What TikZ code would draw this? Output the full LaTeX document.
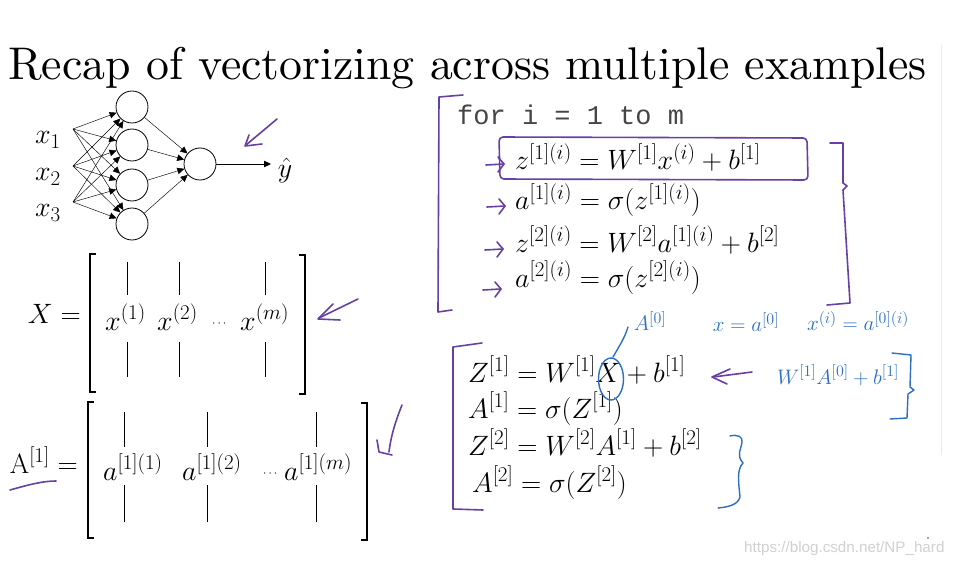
\RequirePackage{fix-cm}
\documentclass[tikz,border=0pt]{standalone}
\usepackage{fontspec}
\newfontfamily\codefont{Liberation Mono}
\newfontfamily\wmfont{Liberation Sans}
\newfontfamily\titlefont{lmroman10-regular.otf}
\usetikzlibrary{arrows.meta}
\definecolor{pen}{RGB}{104,64,164}
\definecolor{bpen}{RGB}{45,112,192}
\definecolor{codegray}{RGB}{70,70,70}
\DeclareMathSizes{28}{28}{21}{16}
\DeclareMathSizes{21}{21}{16}{12}
\newcommand{\eqsize}{\fontsize{28}{32}\selectfont}
\begin{document}
\begin{tikzpicture}[x=1pt,y=-1pt,
  neuron/.style={circle,draw,line width=0.8pt,minimum size=32pt,inner sep=0pt},
  syn/.style={line width=0.45pt,-{Triangle[length=7pt,width=6.5pt]}},
  eq/.style={anchor=base west,inner sep=0pt,font=\eqsize},
  hand/.style={draw=pen,line width=1.6pt,line cap=round,line join=round},
  bhand/.style={draw=bpen,line width=1.4pt,line cap=round,line join=round},
  bnote/.style={text=bpen,inner sep=0pt,font=\fontsize{21}{24}\selectfont},
  colbar/.style={line width=0.9pt},
  brk/.style={line width=1.1pt},
]
\useasboundingbox (0,0) rectangle (961,564);
\fill[white] (0,0) rectangle (961,564);
\draw[black!8,line width=0.8pt] (941,45) -- (941,455);

% title
\node[anchor=base west,inner sep=0pt,font=\titlefont\fontsize{45.8}{50}\selectfont] (title) at (8,80) {Recap of vectorizing across multiple examples};

% neural network
\node[neuron] (h1) at (132,107) {};
\node[neuron] (h2) at (132,145) {};
\node[neuron] (h3) at (132,185) {};
\node[neuron] (h4) at (132,224) {};
\node[neuron] (out) at (200,164) {};
\coordinate (i1) at (73,129);
\coordinate (i2) at (73,166);
\coordinate (i3) at (73,202);
\node[inner sep=0pt,font=\eqsize] (x1) at (48,140) {$x_1$};
\node[inner sep=0pt,font=\eqsize] (x2) at (48,177) {$x_2$};
\node[inner sep=0pt,font=\eqsize] (x3) at (48,213) {$x_3$};
\foreach \i in {1,2,3} \foreach \h in {1,2,3,4} \draw[syn] (i\i) -- (h\h);
\foreach \h in {1,2,3,4} \draw[syn] (h\h) -- (out);
\coordinate (yend) at (271,164);
\draw[syn] (out) -- (yend);
\node[inner sep=0pt,font=\eqsize] (yhat) at (285,171) {$\hat{y}$};
\draw[hand] (277,119) -- (246,145);
\draw[hand] (249,135) -- (245,146) -- (262,144);

% matrix X
\node[anchor=base east,inner sep=0pt,font=\eqsize] (Xlab) at (81,323) {$X =$};
\draw[brk] (96,254) -- (90,254) -- (90,392) -- (96,392);
\draw[brk] (299,255) -- (305,255) -- (305,394) -- (299,394);
\foreach \c in {127,179,265} {
  \draw[colbar] (\c,262) -- (\c,295);
  \draw[colbar] (\c,342) -- (\c,377);
}
\node[eq] (x1c) at (105,330) {$x^{(1)}$};
\node[eq] (x2c) at (157,330) {$x^{(2)}$};
\node[eq,font=\fontsize{12}{14}\selectfont] (xdots) at (212,326) {$\cdots$};
\node[eq] (xmc) at (240,330) {$x^{(m)}$};
\draw[hand] (358,299) -- (319,318);
\draw[hand] (333,304) -- (318,319) -- (340,320);

% matrix A
\node[anchor=base east,inner sep=0pt,font=\eqsize] (Alab) at (78,473) {$\mathrm{A}^{[1]} =$};
\draw[hand] (10,490) .. controls (28,485) and (42,481) .. (56,481);
\draw[brk] (94,402) -- (88,402) -- (88,538) -- (94,538);
\draw[brk] (361,403) -- (367,403) -- (367,540) -- (361,540);
\foreach \c in {124,207,316} {
  \draw[colbar] (\c,412) -- (\c,447);
  \draw[colbar] (\c,485) -- (\c,522);
}
\node[eq] (a1c) at (103,480) {$a^{[1](1)}$};
\node[eq] (a2c) at (182,480) {$a^{[1](2)}$};
\node[eq,font=\fontsize{12}{14}\selectfont] (adots) at (263,476) {$\cdots$};
\node[eq] (amc) at (284,480) {$a^{[1](m)}$};
\draw[hand] (402,405) .. controls (396,420) and (391,435) .. (389,452);
\draw[hand] (377,440) -- (379,452) -- (392,455);

% for loop
\draw[hand] (463,95) -- (439,97) -- (438,312) -- (452,310);
\node[anchor=base west,inner sep=0pt,font=\codefont\fontsize{27}{30}\selectfont,text=codegray] (forline) at (457,125) {for i = 1 to m};
\node[eq] (l1) at (515,170) {$z^{[1](i)} = W^{[1]}x^{(i)} + b^{[1]}$};
\node[eq] (l2) at (515,210) {$a^{[1](i)} = \sigma(z^{[1](i)})$};
\node[eq] (l3) at (515,252) {$z^{[2](i)} = W^{[2]}a^{[1](i)} + b^{[2]}$};
\node[eq] (l4) at (515,287) {$a^{[2](i)} = \sigma(z^{[2](i)})$};
\draw[hand,rounded corners=4pt] (499,137) -- (807,138) -- (808,180) -- (500,179) -- cycle;
\foreach \x/\y in {486/165,487/207,485/250,483/290} {
  \draw[hand] (\x,\y) -- ++(18,-1);
  \draw[hand] (\x+12,\y-8) -- (\x+18,\y-1) -- (\x+12,\y+7);
}
\draw[hand] (830,143) -- (843,143) -- (843,183) -- (847,186) -- (843,190) -- (850,303) -- (827,305);

% vectorized
\draw[hand] (482,343) -- (453,347) -- (453,509) -- (483,510);
\node[eq] (v1) at (468,382) {$Z^{[1]} = W^{[1]}X + b^{[1]}$};
\node[eq] (v2) at (468,418) {$A^{[1]} = \sigma(Z^{[1]})$};
\node[eq] (v3) at (468,455) {$Z^{[2]} = W^{[2]}A^{[1]} + b^{[2]}$};
\node[eq] (v4) at (472,492) {$A^{[2]} = \sigma(Z^{[2]})$};
\draw[bhand] (611,379) ellipse [x radius=12.5,y radius=21];
\draw[bhand] (613,357) .. controls (620,345) and (625,337) .. (628,327);
\node[bnote] (A0) at (650,321) {$A^{[0]}$};
\node[bnote] (xa0) at (746,322) {$x = a^{[0]}$};
\node[bnote] (xia0) at (858,321) {$x^{(i)} = a^{[0](i)}$};
\node[bnote] (wab) at (838,375) {$W^{[1]}A^{[0]}+b^{[1]}$};
\draw[hand] (752,372) -- (713,377);
\draw[hand] (730,369) -- (712,377) -- (727,384);
\draw[bhand] (892,353) -- (911,355) -- (910,387) -- (914,390) -- (908,394) -- (907,418) -- (890,419);
\draw[bhand] (730,436) .. controls (738,434) and (743,437) .. (742,442)
  .. controls (741,450) and (736,455) .. (743,463)
  .. controls (736,470) and (739,485) .. (740,497)
  .. controls (738,505) and (728,507) .. (718,508);

% watermark
\node[anchor=base west,inner sep=0pt,font=\wmfont\fontsize{15.2}{17}\selectfont,text=black!18] (wm) at (744,552) {https://blog.csdn.net/NP\_hard};
\fill[black!70] (928,538) circle (0.9);
\end{tikzpicture}
\end{document}
